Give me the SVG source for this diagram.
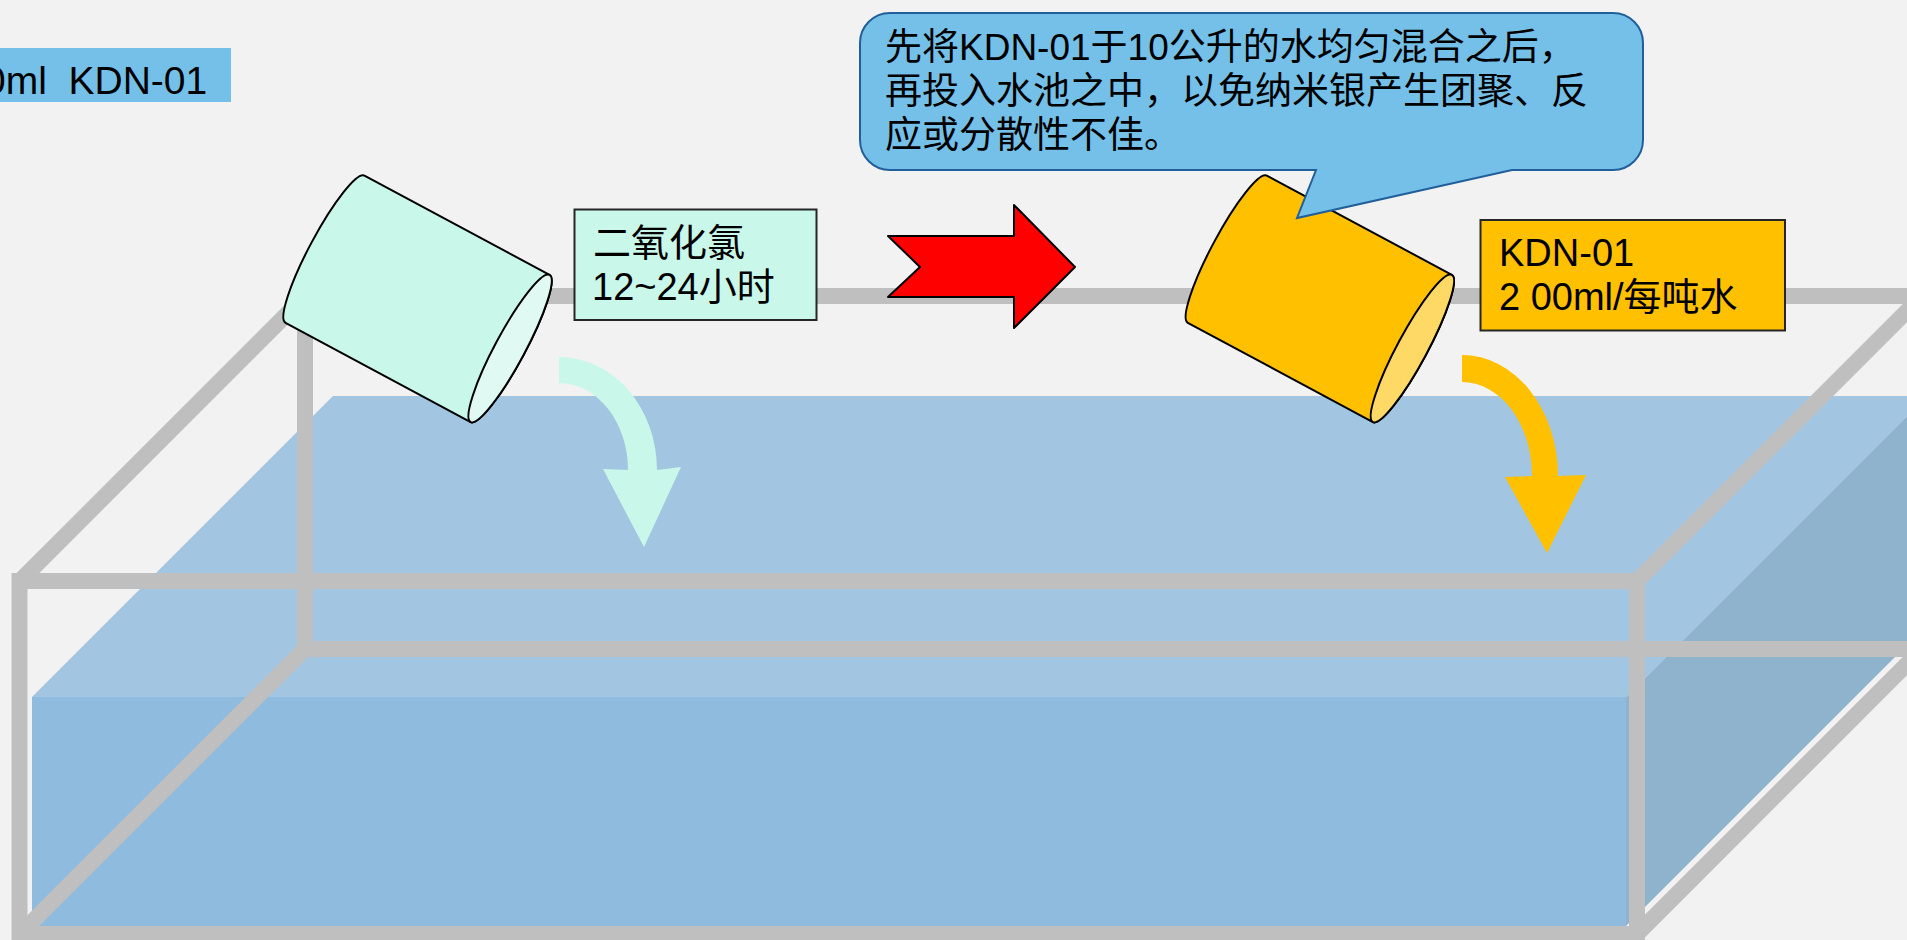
<svg xmlns="http://www.w3.org/2000/svg" xmlns:xlink="http://www.w3.org/1999/xlink" width="1907" height="940" viewBox="0 0 1907 940">
  <style>
    .txt { font-family: "Liberation Sans", "Noto Sans CJK SC", sans-serif; fill: #000000; }
    .bar { fill: none; stroke: #BFBFBF; stroke-width: 16; stroke-linejoin: miter; stroke-linecap: butt; }
    .outline { stroke: #000000; stroke-width: 2; stroke-linejoin: round; }
    .box { stroke: #262626; stroke-width: 2; }
  </style>
  <defs>
    <!-- tilted can: body with rounded back end, open mouth ellipse at the front -->
    <path id="canBody" d="M0,-83.5 H210 A15,83.5 0 0 1 210,83.5 H0 A15,83.5 0 0 1 0,-83.5 Z"/>
    <ellipse id="canMouth" cx="210" cy="0" rx="15" ry="83.5"/>
  </defs>

  <rect width="1907" height="940" fill="#F2F2F2"/>

  <!-- water volume -->
  <g id="water">
    <polygon points="32,697 333,396 1927,396 1626,697" fill="#A2C6E1"/>
    <polygon points="1626,697 1927,396 1927,625 1626,926" fill="#8FB2CD"/>
    <rect x="32" y="697" width="1594" height="237" fill="#8FBBDE"/>
  </g>

  <!-- tank frame -->
  <g id="tank-frame">
    <path class="bar" d="M1930,296 H305 V649 H1930"/>
    <path class="bar" d="M19.5,581 H1637 V934 H19.5 Z"/>
    <path class="bar" d="M305,296 L19.5,581.5 M305,649 L19.5,934.5 M1637,581 L1922,296 M1637,934 L1922,649"/>
  </g>

  <!-- chlorine dioxide can -->
  <g id="can-clo2" transform="translate(325,249.2) rotate(28.2)">
    <use xlink:href="#canBody" href="#canBody" class="outline" fill="#C9F7E9"/>
    <use xlink:href="#canMouth" href="#canMouth" class="outline" fill="#E0FAF3"/>
  </g>

  <!-- KDN-01 can -->
  <g id="can-kdn" transform="translate(1227.3,249.2) rotate(28.2)">
    <use xlink:href="#canBody" href="#canBody" class="outline" fill="#FFC000"/>
    <use xlink:href="#canMouth" href="#canMouth" class="outline" fill="#FFD966"/>
  </g>

  <!-- pouring arrows and step arrow -->
  <g id="connectors">
    <path id="pour-clo2" d="M559,357 A98,113 0 0 1 657,470 L681,467 L644,547 L603,469 L628,470 A69,87 0 0 0 559,383 Z" fill="#C9F7E9"/>
    <path id="pour-kdn" d="M1462,355 A96,121 0 0 1 1558,476 L1586,475 L1547,553 L1505,477 L1532,476 A70,94 0 0 0 1462,382 Z" fill="#FFC000"/>
    <polygon id="step-arrow" class="outline" points="888,236 1014,236 1014,205 1075,267 1014,328 1014,297 888,297 920,267" fill="#FF0000"/>
  </g>

  <!-- dose banner, top left -->
  <g id="dose-banner">
    <rect x="0" y="48" width="231" height="54" fill="#75C0E8"/>
    <text class="txt" x="-16" y="94" font-size="39" xml:space="preserve">0ml  KDN-01</text>
  </g>

  <!-- chlorine dioxide label -->
  <g id="label-clo2">
    <rect class="box" x="574.5" y="209.5" width="242" height="110.5" fill="#C9F7E9"/>
    <text class="txt" font-size="38">
      <tspan x="593" y="256">二氧化氯</tspan>
      <tspan x="592" y="300">12~24小时</tspan>
    </text>
  </g>

  <!-- KDN-01 dosage label -->
  <g id="label-kdn">
    <rect class="box" x="1480.5" y="220" width="304.5" height="110.5" fill="#FFC000"/>
    <text class="txt" font-size="38" xml:space="preserve"><tspan x="1499" y="266">KDN-01</tspan><tspan x="1499" y="310">2 00ml/每吨水</tspan></text>
  </g>

  <!-- mixing note callout -->
  <g id="callout-mixing">
    <path d="M890,13 H1613 A30,30 0 0 1 1643,43 V140 A30,30 0 0 1 1613,170 H1512 L1297,218 L1316,170 H890 A30,30 0 0 1 860,140 V43 A30,30 0 0 1 890,13 Z" fill="#75C0E8" stroke="#215F9A" stroke-width="2"/>
    <text class="txt" font-size="37">
      <tspan x="885" y="60">先将KDN-01于10公升的水均匀混合之后，</tspan>
      <tspan x="885" y="104">再投入水池之中，以免纳米银产生团聚、反</tspan>
      <tspan x="885" y="148">应或分散性不佳。</tspan>
    </text>
  </g>
</svg>
